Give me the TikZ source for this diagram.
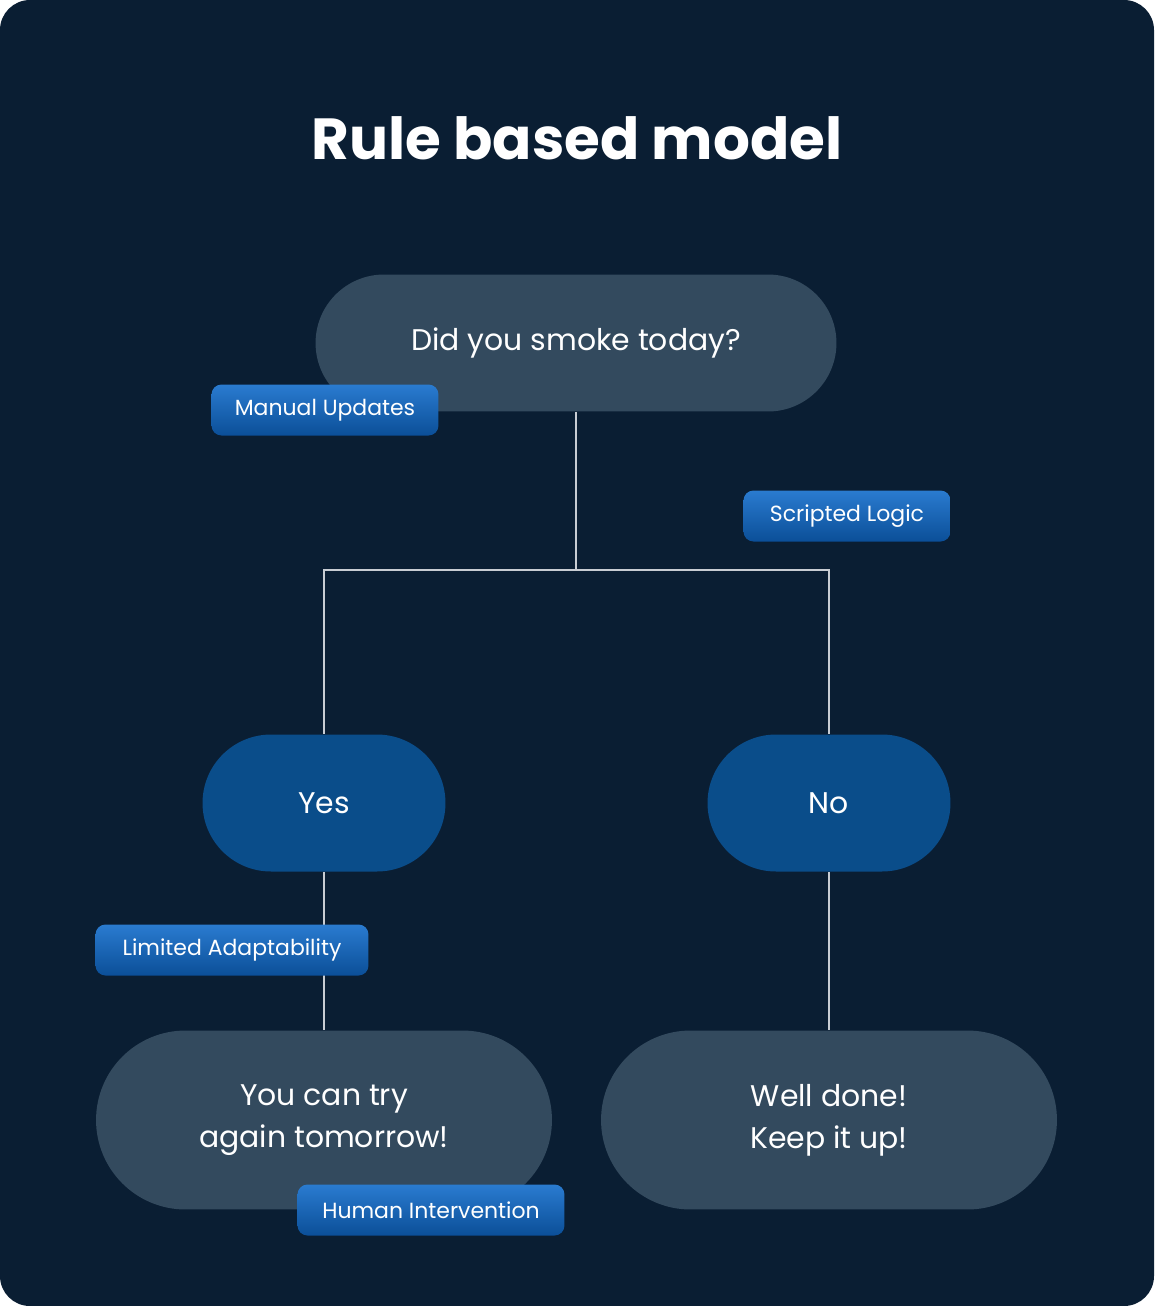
\documentclass[tikz,border=0pt]{standalone}
\usepackage{fontspec}
\setmainfont{Poppins}
\usetikzlibrary{positioning}
\definecolor{bgnavy}{HTML}{0A1E33}
\definecolor{slate}{HTML}{334A5E}
\definecolor{answerblue}{HTML}{0A4D8A}
\definecolor{tagtop}{HTML}{2A7BD0}
\definecolor{tagbot}{HTML}{0B4F98}
\definecolor{wire}{HTML}{C8CDD3}
\tikzset{
  pill/.style={fill=slate,text=white,rounded corners=1.37cm,align=center,font=\fontsize{17}{24}\selectfont,inner sep=0pt},
  question/.style={pill,minimum width=10.42cm,minimum height=2.74cm},
  answer/.style={pill,fill=answerblue,minimum width=4.86cm,minimum height=2.74cm},
  outcome/.style={pill,rounded corners=1.79cm,minimum width=9.12cm,minimum height=3.58cm},
  tag/.style={top color=tagtop,bottom color=tagbot,text=white,rounded corners=0.2cm,minimum height=1.02cm,inner xsep=0pt,font=\fontsize{12.5}{14}\selectfont},
  wire/.style={draw=wire,line width=0.8pt}
}
\begin{document}
\begin{tikzpicture}[x=0.02cm,y=-0.02cm]
\fill[white] (0,0) rectangle (1154,1306);
\fill[bgnavy,rounded corners=0.6cm] (0,0) rectangle (1154,1306);
\node[text=white,font=\bfseries\fontsize{33}{40}\selectfont] (title) at (577,138) {Rule based model};
% tree
\node[question] (smoke) at (576,343) {Did you smoke today?};
\node[answer] (yes) at (324,803) {Yes};
\node[answer] (no) at (829,803) {No};
\node[outcome] (retry) at (324,1120) {You can try\\again tomorrow!};
\node[outcome] (welldone) at (829,1120) {Well done!\\Keep it up!};
\coordinate (split) at (576,570);
\draw[wire] (smoke.south) -- (split);
\draw[wire] (split) -| (yes.north);
\draw[wire] (split) -| (no.north);
\draw[wire] (yes.south) -- (retry.north);
\draw[wire] (no.south) -- (welldone.north);
% tags
\node[tag,minimum width=4.54cm] (manual) at (325,410) {Manual Updates};
\node[tag,minimum width=4.14cm] (scripted) at (847,516) {Scripted Logic};
\node[tag,minimum width=5.46cm] (limited) at (232,950) {Limited Adaptability};
\node[tag,minimum width=5.34cm] (human) at (431,1210) {Human Intervention};
\end{tikzpicture}
\end{document}
